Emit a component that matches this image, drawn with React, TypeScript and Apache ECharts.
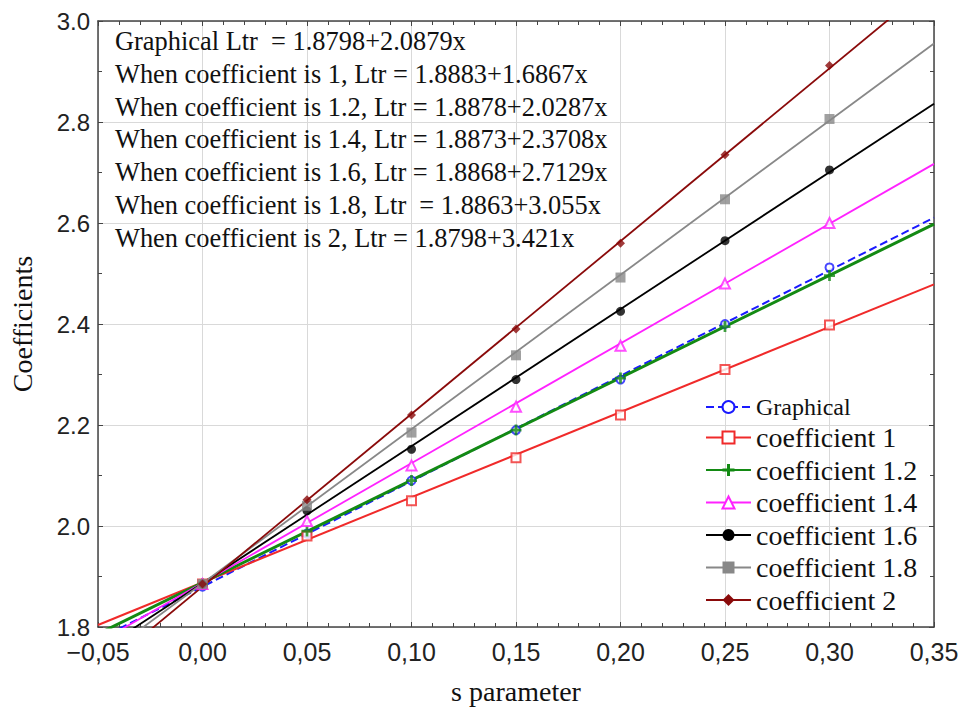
import React, { useEffect, useRef } from "react";
import * as echarts from "echarts";

// Measured points
const xPoints = [0, 0.05, 0.1, 0.15, 0.2, 0.25, 0.3];
const graphicalPts = [1.88, 1.985, 2.09, 2.19, 2.29, 2.4, 2.512];
const coef1Pts = [1.885, 1.98, 2.05, 2.135, 2.22, 2.31, 2.398];
const coef12Pts = [1.885, 1.99, 2.09, 2.19, 2.293, 2.395, 2.496];
const coef14Pts = [1.885, 2.01, 2.12, 2.236, 2.357, 2.48, 2.6];
const coef16Pts = [1.885, 2.03, 2.152, 2.29, 2.425, 2.565, 2.705];
const coef18Pts = [1.885, 2.04, 2.185, 2.338, 2.492, 2.647, 2.806];
const coef2Pts = [1.885, 2.052, 2.22, 2.39, 2.56, 2.735, 2.912];

// Fitted lines, values at the ends of the x range
const lineX = [-0.05, 0.35];
const graphicalLine = [1.7754, 2.6106];
const coef1Line = [1.804, 2.4786];
const coef12Line = [1.7864, 2.5978];
const coef14Line = [1.7688, 2.7171];
const coef16Line = [1.7512, 2.8363];
const coef18Line = [1.7336, 2.9556];
const coef2Line = [1.7088, 3.0772];

const seriesNames = [
  "Graphical",
  "coefficient 1",
  "coefficient 1.2",
  "coefficient 1.4",
  "coefficient 1.6",
  "coefficient 1.8",
  "coefficient 2",
];

const equations = [
  "Graphical Ltr  = 1.8798+2.0879x",
  "When coefficient is 1, Ltr = 1.8883+1.6867x",
  "When coefficient is 1.2, Ltr = 1.8878+2.0287x",
  "When coefficient is 1.4, Ltr = 1.8873+2.3708x",
  "When coefficient is 1.6, Ltr = 1.8868+2.7129x",
  "When coefficient is 1.8, Ltr  = 1.8863+3.055x",
  "When coefficient is 2, Ltr = 1.8798+3.421x",
];

const xTitle = "s parameter";
const yTitle = "Coefficients";

const PLUS = "path://M3,0h2v3h3v2h-3v3h-2v-3h-3v-2h3z";

const styles = [
  { color: "#1a1aff", symbol: "emptyCircle", size: 8, width: 2, type: "dashed" },
  { color: "#f02a2a", symbol: "emptyRect", size: 9, width: 2, type: "solid" },
  { color: "#138a13", symbol: PLUS, size: 11, width: 3, type: "solid" },
  { color: "#ff22ff", symbol: "emptyTriangle", size: 10, width: 1.8, type: "solid" },
  { color: "#000000", symbol: "circle", size: 9, width: 1.8, type: "solid" },
  { color: "#888888", symbol: "rect", size: 10, width: 1.8, type: "solid" },
  { color: "#8a0a0a", symbol: "diamond", size: 9, width: 1.8, type: "solid" },
];

const ptsList = [graphicalPts, coef1Pts, coef12Pts, coef14Pts, coef16Pts, coef18Pts, coef2Pts];
const lineList = [graphicalLine, coef1Line, coef12Line, coef14Line, coef16Line, coef18Line, coef2Line];

const SANS = '"Liberation Sans", Arial, sans-serif';
const SERIF = '"Liberation Serif", "Times New Roman", serif';

export default function App() {
  const ref = useRef<HTMLDivElement>(null);
  useEffect(() => {
    if (!ref.current) return;
    const chart = echarts.init(ref.current, undefined, { renderer: "svg" });

    const axisCommon = {
      axisLine: { show: true, onZero: false, lineStyle: { color: "#444", width: 1.5 } },
      axisTick: { show: true, inside: true, length: 5, lineStyle: { color: "#444", width: 1 } },
      minorTick: { show: true, length: 4, lineStyle: { color: "#444", width: 1 } },
    };

    const lineOrder = [1, 2, 3, 4, 5, 6, 0];
    const series: any[] = [];
    lineOrder.forEach((i) => {
      const s = styles[i];
      series.push({
        name: seriesNames[i],
        type: "line",
        data: lineX.map((x, k) => [x, lineList[i][k]]),
        symbol: s.symbol,
        symbolSize: s.size,
        showSymbol: false,
        clip: true,
        lineStyle: { color: s.color, width: s.width, type: s.type },
        itemStyle: { color: s.color },
        z: 2 + i,
        silent: true,
      });
    });
    lineOrder.forEach((i) => {
      const s = styles[i];
      series.push({
        name: seriesNames[i],
        type: "scatter",
        data: xPoints.map((x, k) => [x, ptsList[i][k]]),
        symbol: s.symbol,
        symbolSize: s.size,
        itemStyle: { color: s.color, borderColor: s.color, borderWidth: s.symbol.startsWith("empty") ? 1.2 : 0 },
        z: 10 + i,
        silent: true,
      });
    });

    chart.setOption({
      animation: false,
      backgroundColor: "#ffffff",
      grid: { left: 98, right: 35, top: 21, bottom: 84, containLabel: false },
      xAxis: [
        {
          type: "value",
          min: -0.05,
          max: 0.35,
          interval: 0.05,
          position: "bottom",
          ...axisCommon,
          minorTick: { ...axisCommon.minorTick, splitNumber: 5 },
          splitLine: { show: true, lineStyle: { color: "#d9d9d9", width: 1 } },
          axisLabel: {
            fontFamily: SANS,
            fontSize: 25,
            color: "#222",
            margin: 12,
            formatter: (v: number) => (v < -1e-9 ? "\u2212" : "") + Math.abs(v).toFixed(2).replace(".", ","),
          },
          name: xTitle,
          nameLocation: "middle",
          nameGap: 50,
          nameTextStyle: { fontFamily: SERIF, fontSize: 28, color: "#111" },
        },
        {
          type: "value",
          min: -0.05,
          max: 0.35,
          interval: 0.05,
          position: "top",
          ...axisCommon,
          minorTick: { ...axisCommon.minorTick, splitNumber: 5 },
          splitLine: { show: false },
          axisLabel: { show: false },
        },
      ],
      yAxis: [
        {
          type: "value",
          min: 1.8,
          max: 3.0,
          interval: 0.2,
          position: "left",
          ...axisCommon,
          minorTick: { ...axisCommon.minorTick, splitNumber: 2 },
          splitLine: { show: true, lineStyle: { color: "#d9d9d9", width: 1 } },
          axisLabel: {
            fontFamily: SANS,
            fontSize: 24,
            color: "#222",
            margin: 8,
            formatter: (v: number) => v.toFixed(1),
          },
          name: yTitle,
          nameLocation: "middle",
          nameGap: 62,
          nameRotate: 90,
          nameTextStyle: { fontFamily: SERIF, fontSize: 28, color: "#111" },
        },
        {
          type: "value",
          min: 1.8,
          max: 3.0,
          interval: 0.2,
          position: "right",
          ...axisCommon,
          minorTick: { ...axisCommon.minorTick, splitNumber: 2 },
          splitLine: { show: false },
          axisLabel: { show: false },
        },
      ],
      legend: {
        data: seriesNames,
        orient: "vertical",
        left: 700,
        top: 390,
        itemWidth: 45,
        itemHeight: 15,
        itemGap: 4.5,
        selectedMode: false,
        formatter: (name: string) => (name === "Graphical" ? `{s|${name}}` : `{b|${name}}`),
        textStyle: {
          color: "#111",
          fontFamily: SERIF,
          rich: {
            s: { fontSize: 24, fontFamily: SERIF, color: "#111" },
            b: { fontSize: 28, fontFamily: SERIF, color: "#111" },
          },
        },
      },
      graphic: [
        {
          type: "text",
          left: 115,
          top: 25,
          z: 100,
          style: {
            text: equations.join("\n"),
            font: `26.4px ${SERIF}`,
            lineHeight: 32.7,
            fill: "#111",
          },
        },
      ],
      series,
    });
    return () => chart.dispose();
  }, []);

  return (
    <div
      ref={ref}
      style={{ position: "fixed", left: 0, top: 0, width: 969, height: 711 }}
    />
  );
}
